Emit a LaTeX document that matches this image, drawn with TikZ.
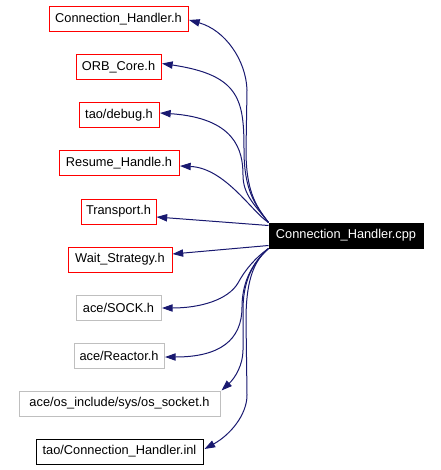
\documentclass[tikz,border=0pt]{standalone}
\usepackage{fontspec}
\setmainfont{Liberation Sans}
\usetikzlibrary{calc,arrows.meta}
\definecolor{edgeblue}{RGB}{25,25,112}
\definecolor{boxred}{RGB}{255,0,0}
\definecolor{boxgray}{RGB}{191,191,191}
\begin{document}
\begin{tikzpicture}[x=0.75pt,y=-0.75pt,
  every node/.style={font=\fontsize{9.6pt}{11pt}\selectfont, inner sep=0pt, minimum height=25*0.75pt, line width=0.75pt},
  redbox/.style={draw=boxred},
  graybox/.style={draw=boxgray},
  blackbox/.style={draw=black},
  mainbox/.style={fill=black, text=white, draw=black},
  dep/.style={draw=edgeblue, line width=0.75pt, -{Triangle[length=8pt,width=5.5pt]}}
]
\useasboundingbox (0,0) rectangle (440,470);
\node[redbox, minimum width=139*0.75pt] (chh) at (118.5,19.5) {Connection\_Handler.h};
\node[redbox, minimum width=85*0.75pt] (orb) at (118.5,67.5) {ORB\_Core.h};
\node[redbox, minimum width=80*0.75pt] (dbg) at (119,115.5) {tao/debug.h};
\node[redbox, minimum width=120*0.75pt] (res) at (119,163.5) {Resume\_Handle.h};
\node[redbox, minimum width=75*0.75pt] (tr) at (118.5,211.5) {Transport.h};
\node[redbox, minimum width=104*0.75pt] (ws) at (120,259.5) {Wait\_Strategy.h};
\node[graybox, minimum width=85*0.75pt] (sock) at (118.5,307.5) {ace/SOCK.h};
\node[graybox, minimum width=90*0.75pt] (rea) at (119,355.5) {ace/Reactor.h};
\node[graybox, minimum width=201*0.75pt] (oss) at (119.5,403.5) {ace/os\_include/sys/os\_socket.h};
\node[blackbox, minimum width=167*0.75pt] (inl) at (119.5,451.5) {tao/Connection\_Handler.inl};
\node[mainbox, minimum width=154*0.75pt] (cpp) at (346,235.5) {Connection\_Handler.cpp};

\draw[dep] (cpp.north west) .. controls (255,205) and (246,190) .. (246,150)
  -- (247,90) .. controls (246,60) and (225,30) .. ($(chh.east)+(0.5,0.5)$);
\draw[dep] (cpp.north west) .. controls (255,205) and (244,190) .. (244,150)
  .. controls (244,100) and (240,75) .. ($(orb.east)+(0.5,-4)$);
\draw[dep] (cpp.north west) .. controls (255,205) and (243,195) .. (243,175)
  .. controls (243,150) and (235,118) .. ($(dbg.east)+(0.5,-2.5)$);
\draw[dep] (cpp.north west) .. controls (252,212) and (225,168) .. ($(res.east)+(0.5,2.5)$);
\draw[dep] ($(cpp.north west)+(0,3)$) -- ($(tr.east)+(0,5.5)$);
\draw[dep] ($(cpp.south west)+(0,-3)$) -- ($(ws.east)+(0,-5.5)$);
\draw[dep] (cpp.south west) .. controls (255,258) and (245,270) .. (238,283)
  .. controls (228,300) and (200,308) .. ($(sock.east)+(0.5,0.5)$);
\draw[dep] (cpp.south west) .. controls (250,265) and (242,285) .. (242,307)
  .. controls (242,340) and (220,357) .. ($(rea.east)+(0.5,1.5)$);
\draw[dep] (cpp.south west) .. controls (250,265) and (243,285) .. (243,310)
  -- (243,350) .. controls (243,365) and (235,378) .. ($(oss.north east)+(1,0)$);
\draw[dep] (cpp.south west) .. controls (252,262) and (246,285) .. (246,320)
  -- (247,395) .. controls (247,415) and (230,435) .. ($(inl.east)+(1,-2.5)$);
\end{tikzpicture}
\end{document}
